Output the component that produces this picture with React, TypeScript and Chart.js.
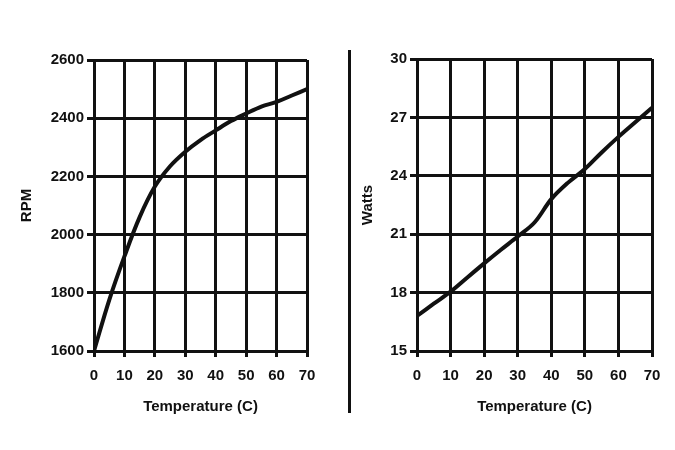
import React, { useEffect, useRef } from "react";
import { Chart, registerables } from "chart.js";

Chart.register(...registerables);

const temps = [0, 5, 10, 15, 20, 25, 30, 35, 40, 45, 50, 55, 60, 65, 70];
const rpmValues = [1600, 1775, 1925, 2060, 2165, 2235, 2285, 2325, 2358, 2390, 2416, 2440, 2456, 2478, 2500];
const wattValues = [16.8, 17.43, 18.05, 18.78, 19.5, 20.2, 20.88, 21.6, 22.8, 23.65, 24.35, 25.2, 26.0, 26.75, 27.5];

const xTitle = "Temperature (C)";
const rpmTitle = "RPM";
const wattTitle = "Watts";

const FONT = "'Liberation Sans', Arial, sans-serif";
const INK = "#111";

function makeConfig(values: number[], yTitle: string, yMin: number, yMax: number, yStep: number, yWidth: number, yTitlePad: number, padTop: number, padRight: number) {
  return {
    type: "line" as const,
    data: {
      datasets: [
        {
          data: temps.map((t, i) => ({ x: t, y: values[i] })),
          borderColor: INK,
          borderWidth: 4,
          pointRadius: 0,
          tension: 0.35,
          fill: false,
        },
      ],
    },
    options: {
      responsive: false,
      animation: false as const,
      layout: { padding: { top: padTop, right: padRight, bottom: 30, left: 0 } },
      plugins: { legend: { display: false }, tooltip: { enabled: false } },
      scales: {
        x: {
          type: "linear" as const,
          min: 0,
          max: 70,
          ticks: { stepSize: 10, color: INK, font: { family: FONT, size: 15, weight: "bold" as const }, padding: 10, callback: (v: any) => String(v) },
          grid: { color: INK, lineWidth: 3, tickLength: 6, tickColor: INK },
          border: { color: INK, width: 3 },
          title: { display: true, text: xTitle, color: INK, font: { family: FONT, size: 15, weight: "bold" as const }, padding: { top: 0, bottom: 4 } },
          afterFit: (s: any) => { s.height = 69; },
        },
        y: {
          type: "linear" as const,
          min: yMin,
          max: yMax,
          ticks: { stepSize: yStep, color: INK, font: { family: FONT, size: 15, weight: "bold" as const }, padding: 3, callback: (v: any) => String(v) },
          grid: { color: INK, lineWidth: 3, tickLength: 7, tickColor: INK },
          border: { color: INK, width: 3 },
          title: { display: true, text: yTitle, color: INK, font: { family: FONT, size: 15, weight: "bold" as const }, padding: { top: yTitlePad, bottom: 0 } },
          afterFit: (s: any) => { s.width = yWidth; },
        },
      },
    },
  };
}

function LineCanvas(props: { cfg: any; left: number; width: number }) {
  const ref = useRef<HTMLCanvasElement | null>(null);
  useEffect(() => {
    if (!ref.current) return;
    const chart = new Chart(ref.current, props.cfg);
    return () => chart.destroy();
  }, []);
  return (
    <canvas
      ref={ref}
      width={props.width}
      height={450}
      style={{ position: "absolute", left: props.left, top: 0, width: props.width, height: 450 }}
    />
  );
}

export default function App() {
  const cfg1 = makeConfig(rpmValues, rpmTitle, 1600, 2600, 200, 94, 18, 60, 33);
  const cfg2 = makeConfig(wattValues, wattTitle, 15, 30, 3, 67, 9, 59, 23);
  return (
    <div style={{ position: "fixed", left: 0, top: 0, width: 675, height: 450, background: "#fff" }}>
      <LineCanvas cfg={cfg1} left={0} width={340} />
      <LineCanvas cfg={cfg2} left={350} width={325} />
      <div style={{ position: "absolute", left: 348, top: 50, width: 2.5, height: 363, background: INK }} />
    </div>
  );
}
